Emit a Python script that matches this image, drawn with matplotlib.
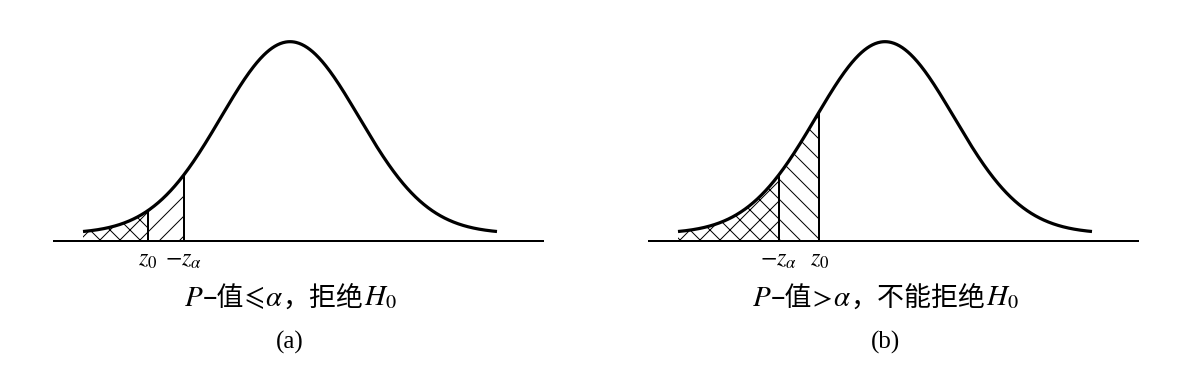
import numpy as np
import matplotlib
matplotlib.use("Agg")
import matplotlib.pyplot as plt
from matplotlib.offsetbox import TextArea, HPacker, AnnotationBbox

DPI = 60                      # hatch cell = DPI pixels -> ~10 px line spacing


def px(v):
    # pixel size -> points at this dpi
    return v * 72 / DPI


plt.rcParams["mathtext.fontset"] = "stix"
plt.rcParams["font.family"] = ["Liberation Serif", "Noto Sans CJK SC"]
plt.rcParams["hatch.linewidth"] = px(1.0)
plt.rcParams["hatch.color"] = "black"

# curve: standard normal density over [-3, 3]
CURVE_LIM = (-3.0, 3.0)
BASE_X = [-3.42, 3.66]
BASE_Y = -0.0154
Z_ALPHA = 1.54
Z0 = [-2.06, -0.95]          # panel (a), panel (b)

# caption pieces: (text, kind)
CAPTIONS = [
    [("$P$", "math"), ("–值", "cjk"), ("⩽", "sym"), ("$\\alpha$", "math"),
     ("，拒绝", "cjk"), ("$H_0$", "math")],
    [("$P$", "math"), ("–值", "cjk"), (">", "sym"), ("$\\alpha$", "math"),
     ("，不能拒绝", "cjk"), ("$H_0$", "math")],
]
TAGS = ["(a)", "(b)"]

XLIM = (-3.62, 3.91)
YLIM = (-0.034, 0.444)


def pdf(x):
    return np.exp(-0.5 * x ** 2) / np.sqrt(2 * np.pi)


def draw_panel(ax, z0):
    za = -Z_ALPHA
    lo, hi = min(z0, za), max(z0, za)

    x = np.linspace(CURVE_LIM[0], CURVE_LIM[1], 601)
    ax.plot(x, pdf(x), color="black", lw=px(3.2), solid_capstyle="butt")
    ax.plot(BASE_X, [BASE_Y, BASE_Y], color="black", lw=px(2))

    xc = np.linspace(CURVE_LIM[0], lo, 200)
    ax.fill_between(xc, BASE_Y, pdf(xc), facecolor="none", edgecolor="black",
                    hatch="x", linewidth=0)
    xm = np.linspace(lo, hi, 100)
    mid_hatch = "/" if z0 < za else "\\"
    ax.fill_between(xm, BASE_Y, pdf(xm), facecolor="none", edgecolor="black",
                    hatch=mid_hatch, linewidth=0)

    ax.vlines([z0, za], BASE_Y, pdf(np.array([z0, za])), color="black", lw=px(2))

    for pos, lab in [(z0, r"$z_0$"), (za, r"$-z_\alpha$")]:
        ax.annotate(lab, xy=(pos, BASE_Y), xytext=(0, -px(25)), textcoords="offset points",
                    ha="center", va="baseline", fontsize=px(24))

    ax.set_xlim(*XLIM)
    ax.set_ylim(*YLIM)
    ax.axis("off")


def caption(fig, pieces, xfrac, yfrac):
    boxes = []
    for text, kind in pieces:
        if kind == "math":
            props = dict(fontsize=px(29))
        elif kind == "sym":
            props = dict(fontsize=px(29), family="STIXGeneral")
        else:
            props = dict(fontsize=px(27), family="Noto Sans CJK SC")
        boxes.append(TextArea(text, textprops=props))
    pack = HPacker(children=boxes, align="baseline", pad=0, sep=0)
    ab = AnnotationBbox(pack, (xfrac, yfrac), xycoords=fig.transFigure,
                        frameon=False, box_alignment=(0.5, 0.5))
    fig.add_artist(ab)


W, H = 1193, 377
fig = plt.figure(figsize=(W / DPI, H / DPI), dpi=DPI)
centers = [290, 885]
for i, c in enumerate(centers):
    left_px = c + XLIM[0] * 69
    ax = fig.add_axes([left_px / W, 1 - 250 / H, (XLIM[1] - XLIM[0]) * 69 / W, 230 / H])
    draw_panel(ax, Z0[i])
    caption(fig, CAPTIONS[i], c / W, 1 - 298 / H)
    fig.text(c / W, 1 - 342 / H, TAGS[i], ha="center", va="center", fontsize=px(25),
             family="Liberation Serif")

fig.savefig("out.png", dpi=DPI)
